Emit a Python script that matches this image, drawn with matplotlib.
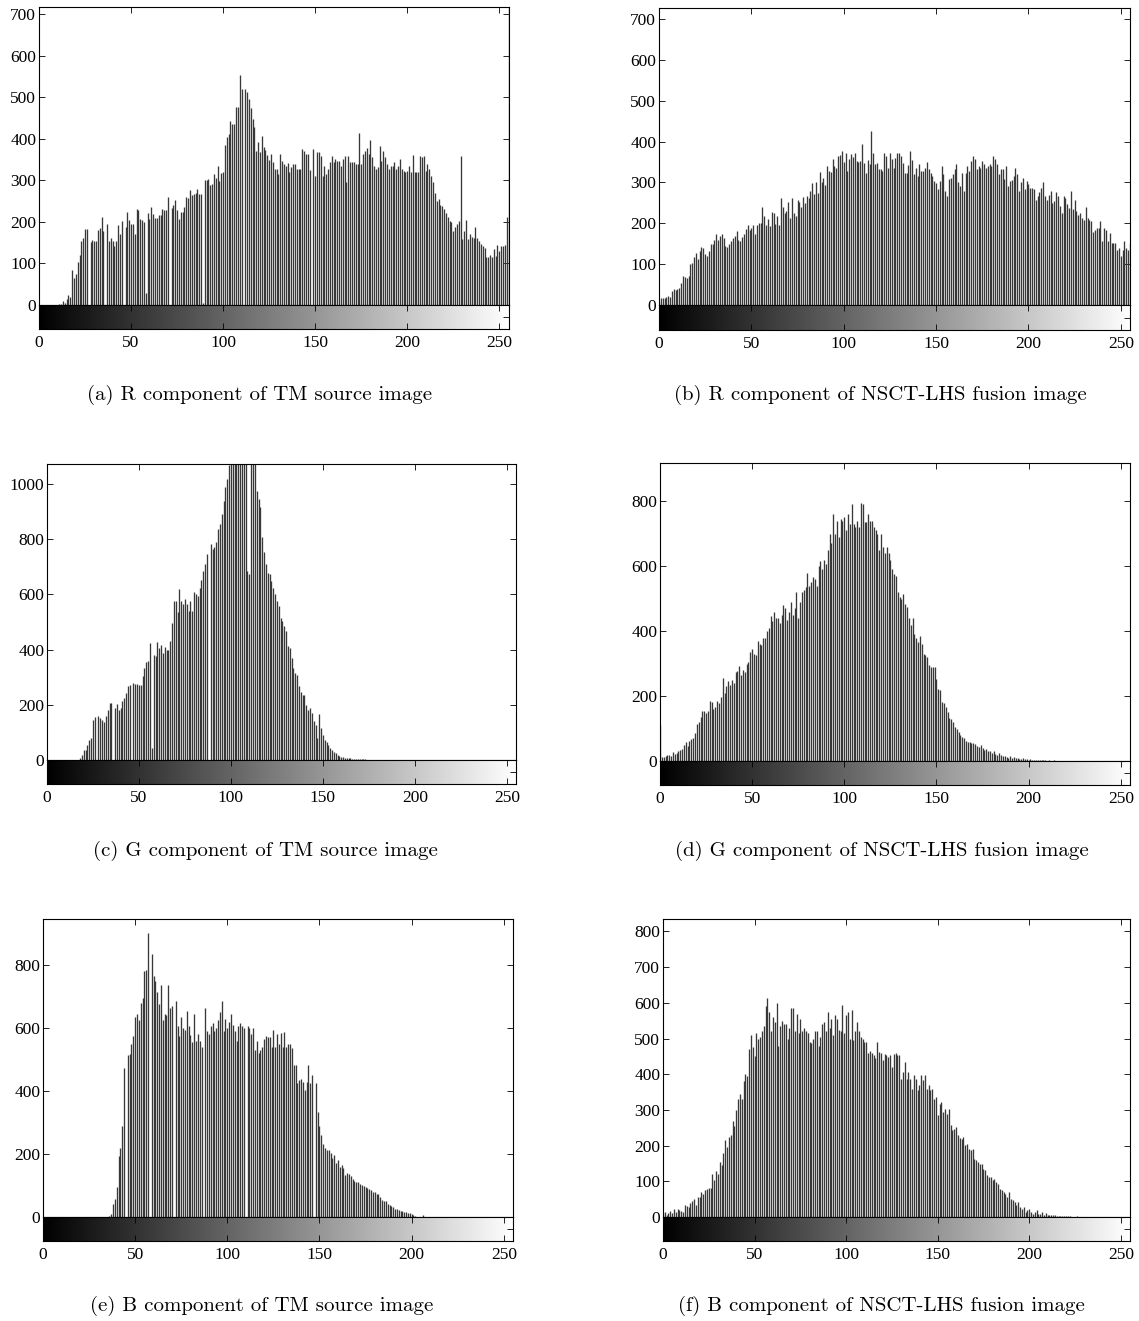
import numpy as np
import matplotlib
matplotlib.use("Agg")
import matplotlib.pyplot as plt

W, H = 1139, 1321
bins = np.arange(256)

# ---------------- data (histogram counts per grey level 0..255) ----------------
r_tm = [
    0, 0, 0, 0, 0, 0, 0, 0, 0, 0, 0, 2, 3, 10, 5, 15,
    25, 20, 85, 65, 75, 103, 120, 153, 162, 183, 182, 0, 152, 157, 153, 155,
    180, 185, 212, 178, 0, 195, 153, 162, 155, 143, 155, 192, 170, 203, 0, 188,
    224, 205, 196, 196, 172, 232, 230, 207, 205, 200, 30, 222, 207, 237, 220, 210,
    210, 218, 218, 232, 230, 228, 260, 0, 233, 240, 253, 230, 207, 225, 225, 235,
    260, 258, 278, 265, 268, 270, 280, 268, 268, 5, 300, 302, 303, 290, 292, 316,
    305, 335, 298, 318, 320, 385, 405, 412, 443, 437, 437, 478, 478, 553, 520, 0,
    520, 513, 497, 475, 447, 430, 370, 392, 368, 408, 380, 373, 362, 350, 364, 344,
    328, 328, 316, 364, 348, 340, 336, 341, 320, 332, 340, 340, 328, 328, 328, 376,
    370, 364, 364, 326, 0, 376, 312, 368, 368, 360, 312, 336, 316, 328, 344, 360,
    344, 352, 348, 348, 336, 352, 360, 296, 360, 344, 344, 344, 340, 340, 415, 340,
    364, 372, 378, 364, 398, 356, 336, 328, 332, 384, 348, 372, 356, 340, 328, 336,
    336, 344, 328, 336, 352, 328, 324, 320, 324, 336, 320, 362, 320, 320, 320, 360,
    356, 360, 324, 340, 328, 312, 296, 271, 251, 255, 242, 239, 231, 221, 211, 203,
    199, 179, 187, 194, 203, 360, 159, 179, 206, 159, 171, 163, 161, 187, 161, 155,
    147, 141, 137, 115, 116, 121, 115, 135, 119, 145, 131, 142, 143, 145, 213, 900,
]
r_nsct = [
    8, 17, 17, 17, 20, 22, 20, 35, 38, 37, 40, 42, 55, 72, 68, 66,
    72, 100, 103, 118, 127, 112, 132, 142, 140, 125, 120, 132, 150, 150, 160, 173,
    160, 170, 173, 165, 145, 142, 150, 157, 163, 170, 182, 160, 157, 167, 175, 185,
    197, 183, 188, 195, 175, 195, 200, 200, 240, 218, 195, 210, 193, 228, 226, 198,
    217, 195, 262, 240, 224, 230, 252, 212, 262, 224, 218, 257, 253, 240, 265, 250,
    267, 262, 278, 298, 272, 300, 275, 325, 300, 312, 293, 340, 328, 325, 357, 340,
    335, 365, 367, 378, 350, 372, 328, 358, 370, 362, 372, 353, 350, 352, 395, 348,
    322, 355, 345, 425, 372, 345, 347, 333, 332, 328, 373, 365, 336, 373, 357, 336,
    361, 373, 371, 365, 348, 324, 324, 343, 377, 354, 320, 336, 316, 344, 328, 328,
    336, 350, 332, 324, 316, 303, 299, 284, 303, 340, 320, 279, 266, 309, 311, 320,
    332, 344, 301, 291, 324, 279, 324, 340, 328, 352, 365, 357, 332, 340, 336, 352,
    344, 336, 340, 344, 340, 365, 357, 344, 320, 332, 332, 309, 340, 291, 303, 307,
    316, 336, 320, 279, 301, 311, 284, 303, 295, 287, 287, 284, 258, 268, 276, 287,
    301, 266, 258, 270, 279, 250, 254, 276, 266, 242, 225, 268, 262, 248, 238, 279,
    234, 258, 230, 221, 225, 213, 209, 240, 213, 209, 205, 178, 184, 189, 189, 205,
    156, 189, 184, 156, 176, 152, 152, 152, 135, 139, 119, 134, 156, 139, 135, 152,
]
g_tm = [
    0, 0, 0, 0, 0, 0, 0, 0, 0, 0, 0, 0, 0, 0, 0, 0,
    0, 0, 6, 18, 36, 36, 55, 73, 79, 145, 155, 0, 160, 152, 145, 139,
    158, 182, 206, 206, 0, 188, 202, 182, 190, 212, 224, 242, 267, 270, 0, 279,
    275, 275, 270, 273, 303, 333, 354, 358, 424, 45, 382, 376, 428, 406, 416, 388,
    410, 398, 400, 430, 495, 576, 576, 537, 618, 576, 566, 582, 564, 539, 576, 539,
    608, 600, 594, 624, 651, 685, 709, 745, 0, 784, 764, 772, 790, 836, 855, 891,
    939, 988, 1018, 1070, 1300, 1300, 1300, 1300, 1300, 1300, 1300, 1300, 1300, 685, 675, 1300,
    1300, 1300, 975, 945, 915, 806, 752, 709, 679, 673, 648, 624, 600, 576, 558, 515,
    503, 485, 467, 412, 406, 370, 333, 315, 309, 267, 248, 236, 234, 200, 182, 188,
    170, 140, 125, 80, 166, 115, 90, 73, 67, 55, 42, 36, 30, 24, 18, 15,
    12, 10, 9, 8, 7, 6, 5, 4, 4, 3, 3, 2, 2, 2, 1, 1,
    1, 1, 0, 1, 0, 1, 0, 0, 1, 0, 0, 0, 0, 0, 0, 0,
    0, 0, 0, 0, 0, 0, 0, 0, 0, 0, 0, 0, 0, 0, 0, 0,
    0, 0, 0, 0, 0, 0, 0, 0, 0, 0, 0, 0, 0, 0, 0, 0,
    0, 0, 0, 0, 0, 0, 0, 0, 0, 0, 0, 0, 0, 0, 0, 0,
    0, 0, 0, 0, 0, 0, 0, 0, 0, 0, 0, 0, 0, 0, 0, 0,
]
g_nsct = [
    110, 12, 12, 15, 20, 18, 15, 28, 22, 25, 30, 35, 38, 50, 60, 45,
    62, 68, 72, 85, 115, 120, 135, 155, 155, 148, 155, 185, 183, 160, 165, 185,
    178, 198, 255, 210, 230, 245, 235, 250, 240, 275, 278, 293, 265, 280, 275, 300,
    305, 335, 345, 330, 325, 370, 360, 358, 380, 380, 400, 410, 445, 430, 460, 440,
    440, 425, 450, 480, 470, 435, 460, 490, 450, 470, 520, 440, 490, 520, 525, 535,
    580, 540, 550, 565, 560, 540, 600, 615, 590, 620, 605, 650, 700, 670, 760, 700,
    740, 690, 745, 740, 750, 710, 760, 730, 790, 730, 720, 740, 720, 795, 790, 735,
    735, 760, 740, 740, 720, 710, 700, 650, 700, 660, 640, 660, 640, 620, 590, 575,
    570, 520, 505, 500, 515, 482, 475, 440, 420, 440, 392, 380, 366, 385, 360, 330,
    325, 320, 295, 290, 290, 290, 252, 223, 220, 182, 180, 165, 151, 131, 128, 120,
    105, 100, 90, 80, 75, 70, 62, 60, 58, 55, 55, 52, 45, 42, 50, 40,
    35, 38, 30, 32, 25, 30, 22, 20, 24, 18, 15, 16, 12, 10, 14, 10,
    12, 8, 10, 7, 6, 8, 5, 6, 4, 5, 3, 4, 3, 3, 2, 3,
    2, 2, 1, 2, 1, 1, 2, 1, 1, 1, 0, 1, 1, 0, 1, 0,
    0, 0, 1, 0, 0, 0, 0, 0, 0, 0, 0, 0, 0, 0, 0, 0,
    0, 0, 0, 0, 0, 0, 0, 0, 0, 0, 0, 0, 0, 0, 0, 0,
]
b_tm = [
    0, 0, 0, 0, 0, 0, 0, 0, 0, 0, 0, 0, 0, 0, 0, 0,
    0, 0, 0, 0, 0, 0, 0, 0, 0, 0, 0, 0, 0, 0, 0, 0,
    0, 0, 0, 0, 2, 8, 40, 58, 95, 195, 220, 290, 472, 0, 515, 518,
    550, 575, 635, 645, 625, 680, 695, 780, 785, 900, 0, 836, 765, 750, 715, 675,
    735, 625, 645, 640, 735, 665, 670, 0, 685, 605, 575, 635, 600, 595, 655, 605,
    578, 555, 645, 560, 580, 560, 540, 0, 662, 590, 580, 605, 615, 590, 600, 625,
    650, 685, 590, 630, 600, 620, 645, 610, 590, 560, 605, 615, 605, 600, 0, 605,
    600, 580, 600, 530, 560, 520, 530, 540, 565, 575, 570, 570, 540, 595, 540, 580,
    550, 585, 540, 587, 540, 550, 550, 535, 483, 483, 424, 435, 438, 430, 403, 430,
    483, 424, 451, 0, 424, 334, 290, 260, 233, 220, 212, 212, 202, 186, 196, 170,
    180, 159, 165, 154, 133, 140, 138, 129, 122, 115, 111, 111, 105, 101, 98, 95,
    92, 90, 85, 80, 78, 74, 74, 62, 53, 52, 50, 40, 37, 35, 32, 26,
    24, 21, 20, 18, 17, 16, 14, 12, 8, 5, 3, 1, 1, 0, 7, 1,
    0, 1, 0, 0, 0, 0, 0, 0, 0, 0, 0, 0, 0, 0, 0, 0,
    0, 0, 0, 0, 0, 0, 0, 0, 0, 0, 0, 0, 0, 0, 0, 0,
    0, 0, 0, 0, 0, 0, 0, 0, 0, 0, 0, 0, 0, 0, 0, 0,
]
b_nsct = [
    10, 15, 5, 12, 18, 12, 22, 15, 22, 20, 18, 15, 35, 30, 28, 40,
    45, 50, 35, 55, 55, 70, 65, 75, 78, 80, 80, 120, 105, 130, 120, 155,
    145, 180, 215, 195, 225, 230, 270, 255, 300, 330, 345, 330, 380, 400, 395, 470,
    510, 475, 450, 515, 500, 505, 520, 535, 590, 615, 575, 520, 560, 545, 600, 480,
    535, 550, 540, 540, 500, 530, 585, 585, 520, 570, 515, 555, 520, 530, 520, 515,
    490, 488, 500, 520, 520, 480, 505, 540, 545, 520, 575, 530, 555, 510, 565, 555,
    525, 520, 595, 515, 565, 575, 500, 580, 495, 520, 545, 520, 505, 500, 490, 490,
    460, 465, 460, 455, 445, 490, 462, 460, 439, 458, 455, 448, 453, 420, 458, 460,
    455, 453, 387, 406, 434, 387, 406, 387, 360, 397, 387, 355, 369, 397, 383, 397,
    360, 369, 355, 360, 332, 336, 285, 318, 322, 294, 303, 289, 303, 257, 243, 247,
    252, 229, 222, 218, 224, 201, 205, 191, 187, 191, 163, 159, 154, 149, 149, 135,
    131, 117, 112, 112, 103, 107, 98, 93, 79, 75, 70, 65, 56, 70, 51, 47,
    42, 33, 42, 28, 23, 28, 14, 19, 23, 14, 9, 14, 19, 9, 9, 14,
    7, 11, 6, 5, 7, 6, 5, 4, 3, 4, 3, 2, 3, 2, 2, 1,
    1, 0, 2, 0, 1, 0, 0, 1, 0, 0, 1, 0, 0, 0, 0, 0,
    0, 0, 0, 0, 0, 0, 0, 0, 0, 0, 0, 0, 0, 0, 0, 0,
]

x_ticks = [0, 50, 100, 150, 200, 250]
captions = [
    "(a) R component of TM source image",
    "(b) R component of NSCT-LHS fusion image",
    "(c) G component of TM source image",
    "(d) G component of NSCT-LHS fusion image",
    "(e) B component of TM source image",
    "(f) B component of NSCT-LHS fusion image",
]
series = [r_tm, r_nsct, g_tm, g_nsct, b_tm, b_nsct]
y_tops = [718, 727, 1072, 917, 946, 835]
y_ticks = [np.arange(0, 701, 100), np.arange(0, 701, 100), np.arange(0, 1001, 200),
           np.arange(0, 801, 200), np.arange(0, 801, 200), np.arange(0, 801, 100)]

for s in series:
    assert len(s) == 256, len(s)

# ---------------- layout (pixels) ----------------
# left, right, top, zero-line, colorbar-bottom, caption x, caption y
layout = [
    (39, 508.5, 7, 305, 329, 260, 395),
    (659, 1130, 8, 305, 330, 880, 395),
    (47, 516, 464, 760, 784, 265, 851),
    (660, 1130, 463, 761, 785, 882, 851),
    (43, 513, 919, 1217, 1241, 262, 1306),
    (663, 1130, 919, 1217, 1241, 881, 1306),
]

tick_font = "Liberation Serif"
tick_size = 12.5
fig = plt.figure(figsize=(W / 100, H / 100), dpi=100)
fig.patch.set_facecolor("white")

def rect(l, r, t, b):
    return [l / W, 1 - b / H, (r - l) / W, (b - t) / H]

grad = np.arange(256)[None, :]
for k in range(6):
    l, r, t, z, cb, cx, cy = layout[k]
    ax = fig.add_axes(rect(l, r, t, z))
    ax.vlines(bins, 0, series[k], colors="#383838", linewidth=0.95)
    ax.set_xlim(0, 255)
    ax.set_ylim(0, y_tops[k])
    ax.set_xticks(x_ticks)
    ax.set_yticks(y_ticks[k])
    ax.tick_params(axis="x", direction="in", length=4, width=0.6, top=True,
                   bottom=False, labelbottom=False)
    ax.tick_params(axis="y", direction="in", length=4, width=0.6, left=True,
                   right=True, pad=2, labelsize=tick_size)
    for lab in ax.get_yticklabels():
        lab.set_fontfamily(tick_font)
    for sp in ax.spines.values():
        sp.set_linewidth(0.8)

    cax = fig.add_axes(rect(l, r, z, cb))
    cax.imshow(grad, cmap="gray", aspect="auto", extent=[-0.5, 255.5, 0, 1],
               interpolation="bilinear")
    cax.set_xlim(0, 255)
    cax.set_ylim(0, 1)
    cax.set_xticks(x_ticks)
    cax.set_xticklabels([str(v) for v in x_ticks], fontfamily=tick_font,
                        fontsize=tick_size)
    cax.set_yticks([0.5])
    cax.set_yticklabels([])
    cax.tick_params(axis="x", direction="in", length=4, width=0.6, top=True,
                    bottom=True, pad=4)
    cax.tick_params(axis="y", direction="in", length=4, width=0.6, left=True,
                    right=True)
    for sp in cax.spines.values():
        sp.set_linewidth(0.8)

    fig.text(cx / W, 1 - cy / H, captions[k], ha="center", va="center",
             fontfamily="cmr10", fontsize=15)

fig.savefig("out.png", dpi=100, facecolor="white")
